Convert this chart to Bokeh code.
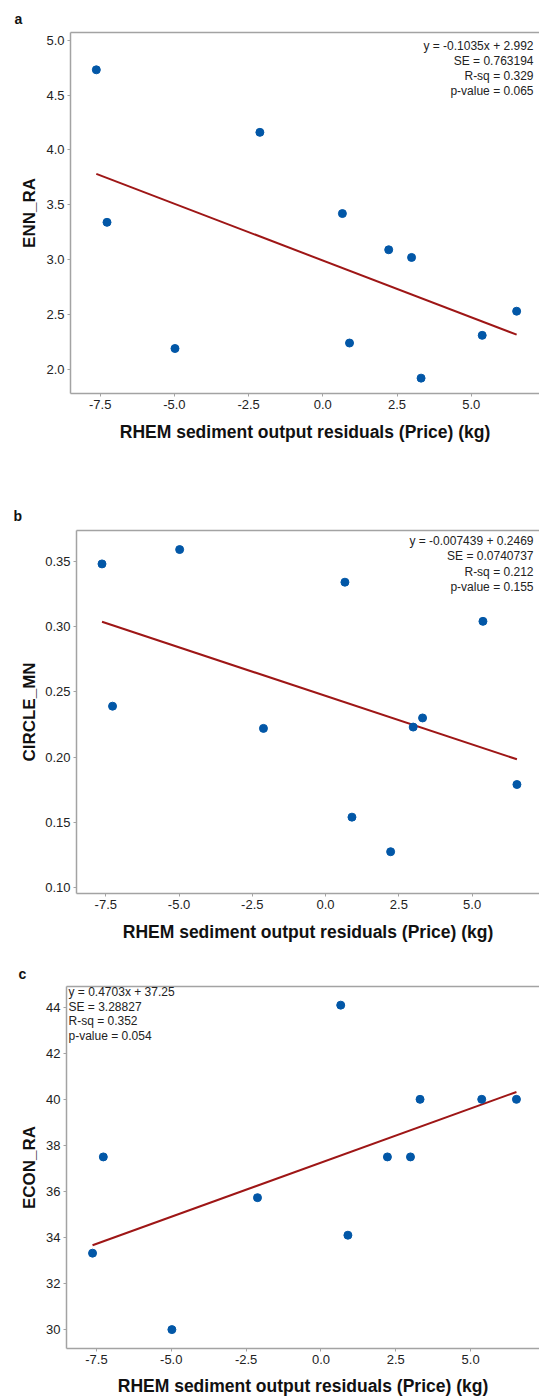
from bokeh.plotting import figure
from bokeh.layouts import column
from bokeh.models import (Range1d, FixedTicker, NumeralTickFormatter, Label,
                          ColumnDataSource, LinearAxis)
from bokeh.embed import file_html
from bokeh.resources import INLINE

# ---- data ----
x_resid = [-7.63, -7.27, -4.98, -2.12, 0.66, 0.90, 2.22, 2.99, 3.31, 5.37, 6.53]
enn_ra = [4.73, 3.34, 2.19, 4.16, 3.42, 2.24, 3.09, 3.02, 1.92, 2.31, 2.53]
circle_mn = [0.348, 0.239, 0.359, 0.222, 0.334, 0.154, 0.1275, 0.223, 0.230, 0.304, 0.179]
econ_ra = [33.32, 37.5, 30.0, 35.73, 44.09, 34.1, 37.5, 37.5, 40.0, 40.0, 40.0]

fit_a = (-0.1035, 2.992)
fit_b = (-0.007439, 0.2469)
fit_c = (0.4703, 37.25)

stats_a = ["y = -0.1035x + 2.992", "SE = 0.763194", "R-sq = 0.329", "p-value = 0.065"]
stats_b = ["y = -0.007439 + 0.2469", "SE = 0.0740737", "R-sq = 0.212", "p-value = 0.155"]
stats_c = ["y = 0.4703x + 37.25", "SE = 3.28827", "R-sq = 0.352", "p-value = 0.054"]

x_ticks = [-7.5, -5.0, -2.5, 0.0, 2.5, 5.0]
y_ticks_a = [2.0, 2.5, 3.0, 3.5, 4.0, 4.5, 5.0]
y_ticks_b = [0.10, 0.15, 0.20, 0.25, 0.30, 0.35]
y_ticks_c = [30, 32, 34, 36, 38, 40, 42, 44]

x_title = "RHEM sediment output residuals (Price) (kg)"

FONT = "Liberation Sans"
GRAY = "#a3a3a3"
TXT = "#222222"
BLUE = "#0257a7"
RED = "#9e1616"
W = 539


def panel(letter, ys, fit, stats, ylabel, yticks, yfmt, yr, height, top, bottom, left,
          ylab_standoff, xlab_standoff, letter_offset, letter_standoff, stats_align, stats_rows):
    p = figure(width=W, height=height, output_backend="svg", toolbar_location=None,
               x_range=Range1d(-8.5, 7.3), y_range=Range1d(*yr),
               min_border_top=top, min_border_bottom=bottom, min_border_left=left,
               min_border_right=0, title=letter)
    p.frame_align = False
    p.background_fill_color = "white"
    p.border_fill_color = "white"
    p.outline_line_color = None
    p.xgrid.visible = False
    p.ygrid.visible = False

    p.title.align = "left"
    p.title.offset = letter_offset
    p.title.standoff = letter_standoff
    p.title.text_font = FONT
    p.title.text_font_size = "14px"
    p.title.text_font_style = "bold"
    p.title.text_color = "#111111"

    xa = p.below[0]
    ya = p.left[0]
    for ax in (xa, ya):
        ax.axis_line_color = GRAY
        ax.axis_line_width = 1.5
        ax.major_tick_line_color = GRAY
        ax.major_tick_out = 3
        ax.major_tick_in = 0
        ax.minor_tick_line_color = None
        ax.major_label_text_font = FONT
        ax.major_label_text_font_size = "13px"
        ax.major_label_text_color = TXT
        ax.major_label_standoff = 3
        ax.axis_label_text_font = FONT
        ax.axis_label_text_font_style = "bold"
        ax.axis_label_text_color = "#111111"

    xa.ticker = FixedTicker(ticks=x_ticks)
    xa.formatter = NumeralTickFormatter(format="0.0")
    xa.axis_label = x_title
    xa.axis_label_text_font_size = "17.5px"
    xa.axis_label_standoff = xlab_standoff

    ya.ticker = FixedTicker(ticks=yticks)
    ya.formatter = NumeralTickFormatter(format=yfmt)
    ya.axis_label = ylabel
    ya.axis_label_text_font_size = "17px"
    ya.axis_label_standoff = ylab_standoff

    # top frame line (the reference shows no right border)
    top_ax = LinearAxis(ticker=FixedTicker(ticks=[]), axis_line_color=GRAY, axis_line_width=1.5,
                        major_tick_line_color=None, minor_tick_line_color=None,
                        major_tick_out=0, major_tick_in=0, major_label_standoff=0,
                        major_label_text_font_size="0px")
    p.add_layout(top_ax, "above")

    slope, icpt = fit
    lx = [min(x_resid), max(x_resid)]
    ly = [slope * v + icpt for v in lx]
    p.line(lx, ly, line_color=RED, line_width=2)

    src = ColumnDataSource(dict(x=x_resid, y=ys))
    p.scatter("x", "y", source=src, size=8, fill_color=BLUE, line_color=BLUE)

    fw = W - left
    fh = height - top - bottom
    for i, s in enumerate(stats):
        if stats_align == "right":
            lab = Label(x=fw - 6, y=fh - stats_rows[i], x_units="screen", y_units="screen",
                        text=s, text_align="right", text_baseline="middle")
        else:
            lab = Label(x=2, y=fh - stats_rows[i], x_units="screen", y_units="screen",
                        text=s, text_align="left", text_baseline="middle")
        lab.text_font = FONT
        lab.text_font_size = "12px"
        lab.text_color = TXT
        p.add_layout(lab)
    return p


pa = panel("a", enn_ra, fit_a, stats_a, "ENN_RA", y_ticks_a, "0.0", (1.78, 5.07),
           455, 32, 62, 70, 4, 10, -56, 11, "right", [13, 28.5, 43.5, 58.5])
pb = panel("b", circle_mn, fit_b, stats_b, "CIRCLE_MN", y_ticks_b, "0.00", (0.0955, 0.3736),
           489, 75, 50, 76, 3, 10, -63, 13, "right", [11, 26.5, 42, 57.5])
pc = panel("c", econ_ra, fit_c, stats_c, "ECON_RA", y_ticks_c, "0", (29.18, 44.9),
           454, 42, 49, 66, 4, 9, -48, 9, "left", [6.7, 21.3, 35.7, 50.7])

layout = column(pa, pb, pc, spacing=0)
open("out.html", "w").write(file_html(layout, INLINE))
